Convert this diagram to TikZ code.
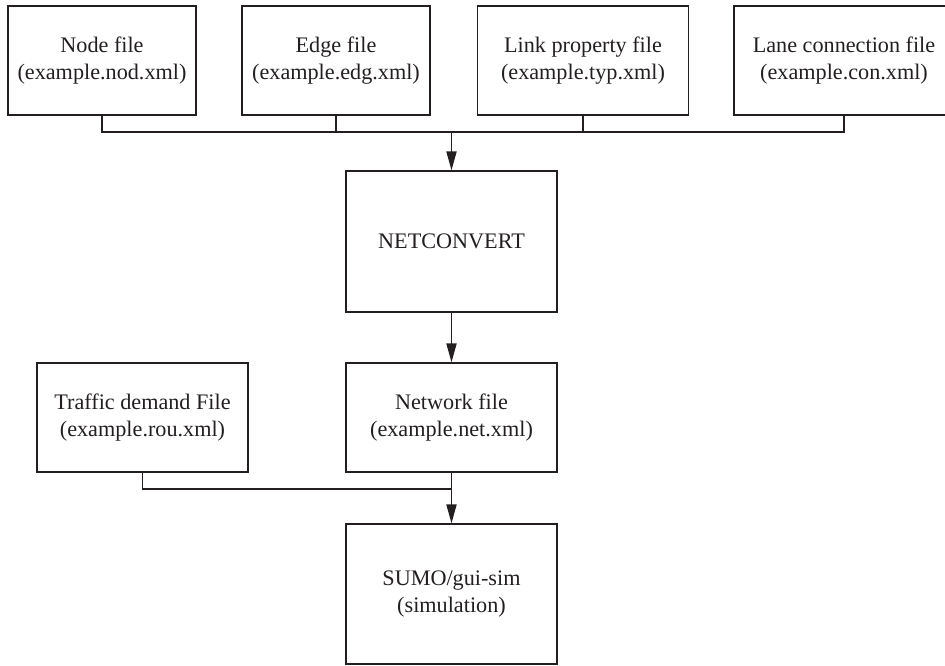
\documentclass[tikz,border=0pt]{standalone}
\usepackage{fontspec}
\setmainfont{Liberation Serif}
\usepackage{tikz}
\usetikzlibrary{arrows.meta, calc, positioning}

\definecolor{ink}{RGB}{35,31,32}

\begin{document}
\begin{tikzpicture}[
	x=1pt, y=-1pt,
	box/.style = {draw=ink, text=ink, line width=1.2pt, inner sep=0pt, align=center,
		minimum width=#1, minimum height=109pt, font=\fontsize{22.2}{27}\selectfont},
	box/.default = 211pt,
	link/.style = {draw=ink, line width=1.3pt},
	arrow/.style = {draw=ink, line width=1.8pt, -{Triangle[length=19pt, width=10pt]}}
]

\clip (0,0) rectangle (945,665);

% input files
\node[box=188pt] (nod file) at (102,60.5) {Node file\\(example.nod.xml)};
\node[box=188pt] (edg file) at (336,60.5) {Edge file\\(example.edg.xml)};
\node[box] (typ file) at (583,60.5) {Link property file\\(example.typ.xml)};
\node[box=220pt] (con file) at (844,60.5) {Lane connection file\\(example.con.xml)};

\node[box, minimum height=141pt] (netconvert) at (451.5,241.5) {NETCONVERT};
\node[box] (net file) at (451.5,417.5) {Network file\\(example.net.xml)};
\node[box] (rou file) at (142.5,417.5) {Traffic demand File\\(example.rou.xml)};
\node[box, minimum height=140pt] (sumo) at (451.5,594) {SUMO/gui-sim\\(simulation)};

\coordinate (bus) at (451.5,132);
\coordinate (merge) at (451.5,489);

\draw[link] (nod file.south) |- (bus);
\draw[link] (edg file.south) |- (bus);
\draw[link] (typ file.south) |- (bus);
\draw[link] (con file.south) |- (bus);
\draw[arrow] (bus) -- (netconvert.north);

\draw[arrow] (netconvert.south) -- (net file.north);

\draw[link] (rou file.south) |- (merge);
\draw[link] (net file.south) -- (merge);
\draw[arrow] (merge) -- (sumo.north);

\end{tikzpicture}
\end{document}
